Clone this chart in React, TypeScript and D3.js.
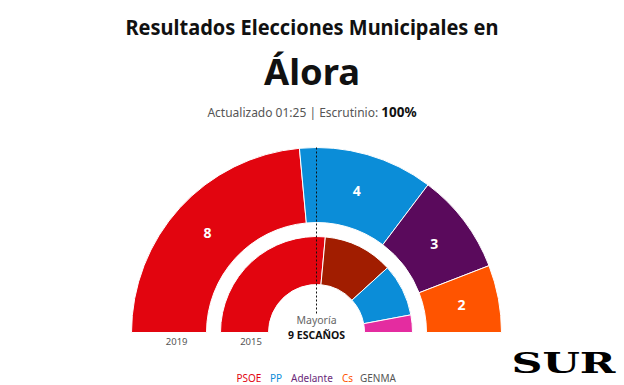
import React from "react";
import * as d3 from "d3";

const parties2019 = ["PSOE", "PP", "Adelante", "Cs"];
const seats2019 = [8, 4, 3, 2];
const colors2019 = ["#e2050f", "#0b8dd8", "#5a0a5c", "#ff5400"];

const parties2015 = ["PSOE", "IU", "PP", "GENMA"];
const seats2015 = [9, 4, 3, 1];
const colors2015 = ["#e2050f", "#a11d00", "#0b8dd8", "#e42ca0"];

const legendNames = ["PSOE", "PP", "Adelante", "Cs", "GENMA"];
const legendColors = ["#e2050f", "#0b8dd8", "#6a2a7a", "#ff5400", "#555555"];
const legendX = [236.5, 270, 291, 342, 360];

const totalSeats = 17;
const majority = 9;

const W = 624;
const H = 385;
const cx = 316.5;
const cy = 332.5;
const FONT = "'Noto Sans', 'Open Sans', sans-serif";

export default function App() {
  const pie = d3
    .pie<number>()
    .sort(null)
    .value((d) => d)
    .startAngle(-Math.PI / 2)
    .endAngle(Math.PI / 2);

  const outerArc = d3.arc<d3.PieArcDatum<number>>().innerRadius(110).outerRadius(185);
  const innerArc = d3.arc<d3.PieArcDatum<number>>().innerRadius(48).outerRadius(96);

  const arcs2019 = pie(seats2019);
  const arcs2015 = pie(seats2015);

  return (
    <svg
      width={W}
      height={H}
      style={{ position: "absolute", left: 0, top: 0, background: "#fff" }}
    >
      <text
        x={312}
        y={35}
        textAnchor="middle"
        fontFamily={FONT}
        fontWeight={700}
        fontSize={20.5}
        fill="#111"
        textLength={373}
        lengthAdjust="spacingAndGlyphs"
      >
        Resultados Elecciones Municipales en
      </text>
      <text
        x={312}
        y={85}
        textAnchor="middle"
        fontFamily={FONT}
        fontWeight={700}
        fontSize={35}
        fill="#111"
        textLength={96}
        lengthAdjust="spacingAndGlyphs"
      >
        Álora
      </text>
      <text
        x={312}
        y={116.5}
        textAnchor="middle"
        fontFamily={FONT}
        fontSize={12}
        fill="#555"
      >
        Actualizado 01:25 | Escrutinio:{" "}
        <tspan fontWeight={700} fontSize={13.5} fill="#111">
          100%
        </tspan>
      </text>

      <g transform={`translate(${cx},${cy})`}>
        {arcs2019.map((a, i) => (
          <path
            key={"o" + i}
            d={outerArc(a) || ""}
            fill={colors2019[i]}
            stroke="#fff"
            strokeWidth={1}
          >
            <title>{parties2019[i]}</title>
          </path>
        ))}
        {arcs2015.map((a, i) => (
          <path
            key={"i" + i}
            d={innerArc(a) || ""}
            fill={colors2015[i]}
            stroke="#fff"
            strokeWidth={1}
          >
            <title>{parties2015[i]}</title>
          </path>
        ))}
        {arcs2019.map((a, i) => {
          const [x, y] = outerArc.centroid(a);
          return (
            <text
              key={"l" + i}
              x={x}
              y={y}
              dy="0.36em"
              textAnchor="middle"
              fontFamily={FONT}
              fontWeight={700}
              fontSize={14}
              fill="#fff"
            >
              {seats2019[i]}
            </text>
          );
        })}
        <line
          x1={0}
          x2={0}
          y1={-185}
          y2={-17}
          stroke="#111"
          strokeWidth={1}
          strokeDasharray="2,2"
        />
        <text
          x={0}
          y={-8.5}
          textAnchor="middle"
          fontFamily={FONT}
          fontSize={10.5}
          fill="#666"
        >
          Mayoría
        </text>
        <text
          x={0}
          y={6}
          textAnchor="middle"
          fontFamily={FONT}
          fontWeight={700}
          fontSize={10.5}
          fill="#111"
        >
          {majority} ESCAÑOS
        </text>
      </g>

      <text x={176.7} y={345} textAnchor="middle" fontFamily={FONT} fontSize={9.5} fill="#555">
        2019
      </text>
      <text x={251} y={345} textAnchor="middle" fontFamily={FONT} fontSize={9.5} fill="#555">
        2015
      </text>

      {legendNames.map((n, i) => (
        <text
          key={"lg" + i}
          x={legendX[i]}
          y={381.5}
          fontFamily={FONT}
          fontSize={10}
          fill={legendColors[i]}
        >
          {n}
        </text>
      ))}

      <text
        x={511.5}
        y={373}
        fontFamily="'DejaVu Serif', 'Liberation Serif', serif"
        fontWeight={900}
        fontSize={28}
        fill="#000"
        textLength={104}
        lengthAdjust="spacingAndGlyphs"
      >
        SUR
      </text>
      <desc>{`Total seats ${totalSeats}`}</desc>
    </svg>
  );
}
